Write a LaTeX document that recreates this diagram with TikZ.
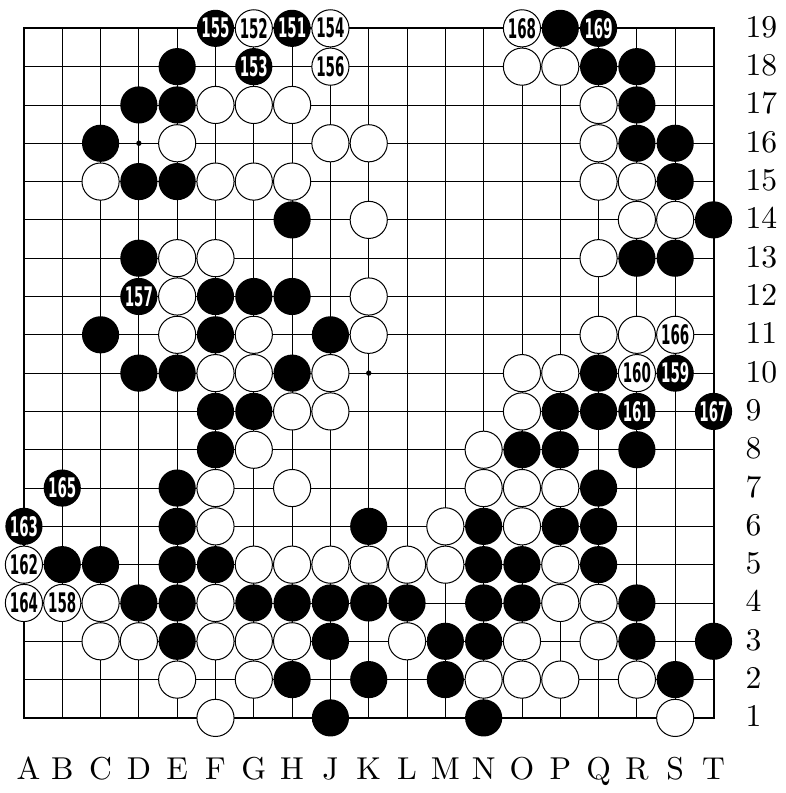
\documentclass[tikz,border=0pt]{standalone}
\usepackage{graphicx}
\usepackage{fontspec}
\usepackage{tikz}
\newfontfamily\numfont{DejaVu Sans}
\newfontfamily\lblfont{lmroman10-regular}[Extension=.otf]
\definecolor{stoneblack}{gray}{0}
\definecolor{stonewhite}{gray}{1}
\tikzset{
  gridline/.style={line width=0.6pt},
  boardedge/.style={line width=1.5pt},
  bstone/.style={fill=stoneblack},
  wstone/.style={fill=stonewhite, draw=black, line width=0.75pt},
  movenum/.style={inner sep=0pt, font=\fontsize{20}{20}\selectfont\numfont\bfseries},
  boardlabel/.style={inner sep=0pt, font=\fontsize{23.5}{28}\selectfont\lblfont},
}
\newcommand{\mvnum}[1]{\scalebox{0.5}[1]{#1}}
\newcommand{\stoner}{0.485}

\begin{document}
\begin{tikzpicture}
		\useasboundingbox (0.375,-0.96) rectangle (20.875,19.74);

		% grid and star points
		\foreach \i in {2,...,18} {
			\draw[gridline] (\i,1) -- (\i,19);
			\draw[gridline] (1,\i) -- (19,\i);
		}
		\draw[boardedge] (1,1) rectangle (19,19);
		\foreach \x in {4,10,16}
			\foreach \y in {4,10,16}
				\fill (\x,\y) circle (0.07);

		% black stones
		\foreach \x/\y in {15/19, 5/18, 16/18, 17/18, 4/17, 5/17, 17/17,
			3/16, 17/16, 18/16, 4/15, 5/15, 18/15, 8/14, 19/14,
			4/13, 17/13, 18/13, 6/12, 7/12, 8/12, 3/11, 6/11, 9/11,
			4/10, 5/10, 8/10, 16/10, 6/9, 7/9, 15/9, 16/9,
			6/8, 14/8, 15/8, 17/8, 5/7, 16/7,
			5/6, 10/6, 13/6, 15/6, 16/6,
			2/5, 3/5, 5/5, 6/5, 13/5, 14/5, 16/5,
			4/4, 5/4, 7/4, 8/4, 9/4, 10/4, 11/4, 13/4, 14/4, 17/4,
			5/3, 9/3, 12/3, 13/3, 17/3, 19/3,
			8/2, 10/2, 12/2, 18/2, 9/1, 13/1}
			\fill[bstone] (\x,\y) circle (\stoner);

		% white stones
		\foreach \x/\y in {14/18, 15/18, 6/17, 7/17, 8/17, 16/17,
			5/16, 9/16, 10/16, 16/16, 3/15, 6/15, 7/15, 8/15, 16/15, 17/15,
			10/14, 17/14, 18/14, 5/13, 6/13, 16/13, 5/12, 10/12,
			5/11, 7/11, 10/11, 16/11, 17/11, 6/10, 7/10, 9/10, 14/10, 15/10,
			8/9, 9/9, 14/9, 7/8, 13/8, 6/7, 8/7, 13/7, 14/7, 15/7,
			6/6, 12/6, 14/6, 7/5, 8/5, 9/5, 10/5, 11/5, 12/5, 15/5,
			3/4, 6/4, 15/4, 16/4,
			3/3, 4/3, 6/3, 7/3, 8/3, 11/3, 14/3, 16/3,
			5/2, 7/2, 13/2, 14/2, 15/2, 17/2, 6/1, 18/1}
			\draw[wstone] (\x,\y) circle (\stoner);

		% numbered moves
		\foreach \x/\y/\n in {8/19/151, 7/18/153, 6/19/155, 4/12/157, 18/10/159,
			17/9/161, 1/6/163, 2/7/165, 19/9/167, 16/19/169} {
			\fill[bstone] (\x,\y) circle (\stoner);
			\node[movenum, text=white] (m\n) at (\x,\y) {\mvnum{\n}};
		}
		\foreach \x/\y/\n in {7/19/152, 9/19/154, 9/18/156, 2/4/158, 17/10/160,
			1/5/162, 1/4/164, 18/11/166, 14/19/168} {
			\draw[wstone] (\x,\y) circle (\stoner);
			\node[movenum, text=black] (m\n) at (\x,\y) {\mvnum{\n}};
		}

		% coordinates
		\foreach \l/\x in {A/1.12,B/2,C/3,D/4,E/5,F/6,G/7,H/8,J/9,K/10,
			L/11,M/12,N/13,O/14,P/15,Q/16,R/17,S/18,T/19}
			\node[boardlabel, anchor=base] (col-\l) at (\x,-0.62) {\l};
		\foreach \r in {1,...,19}
			\node[boardlabel, anchor=base west] (row-\r) at (19.83,\r-0.235) {\r};
	\end{tikzpicture}
\end{document}
